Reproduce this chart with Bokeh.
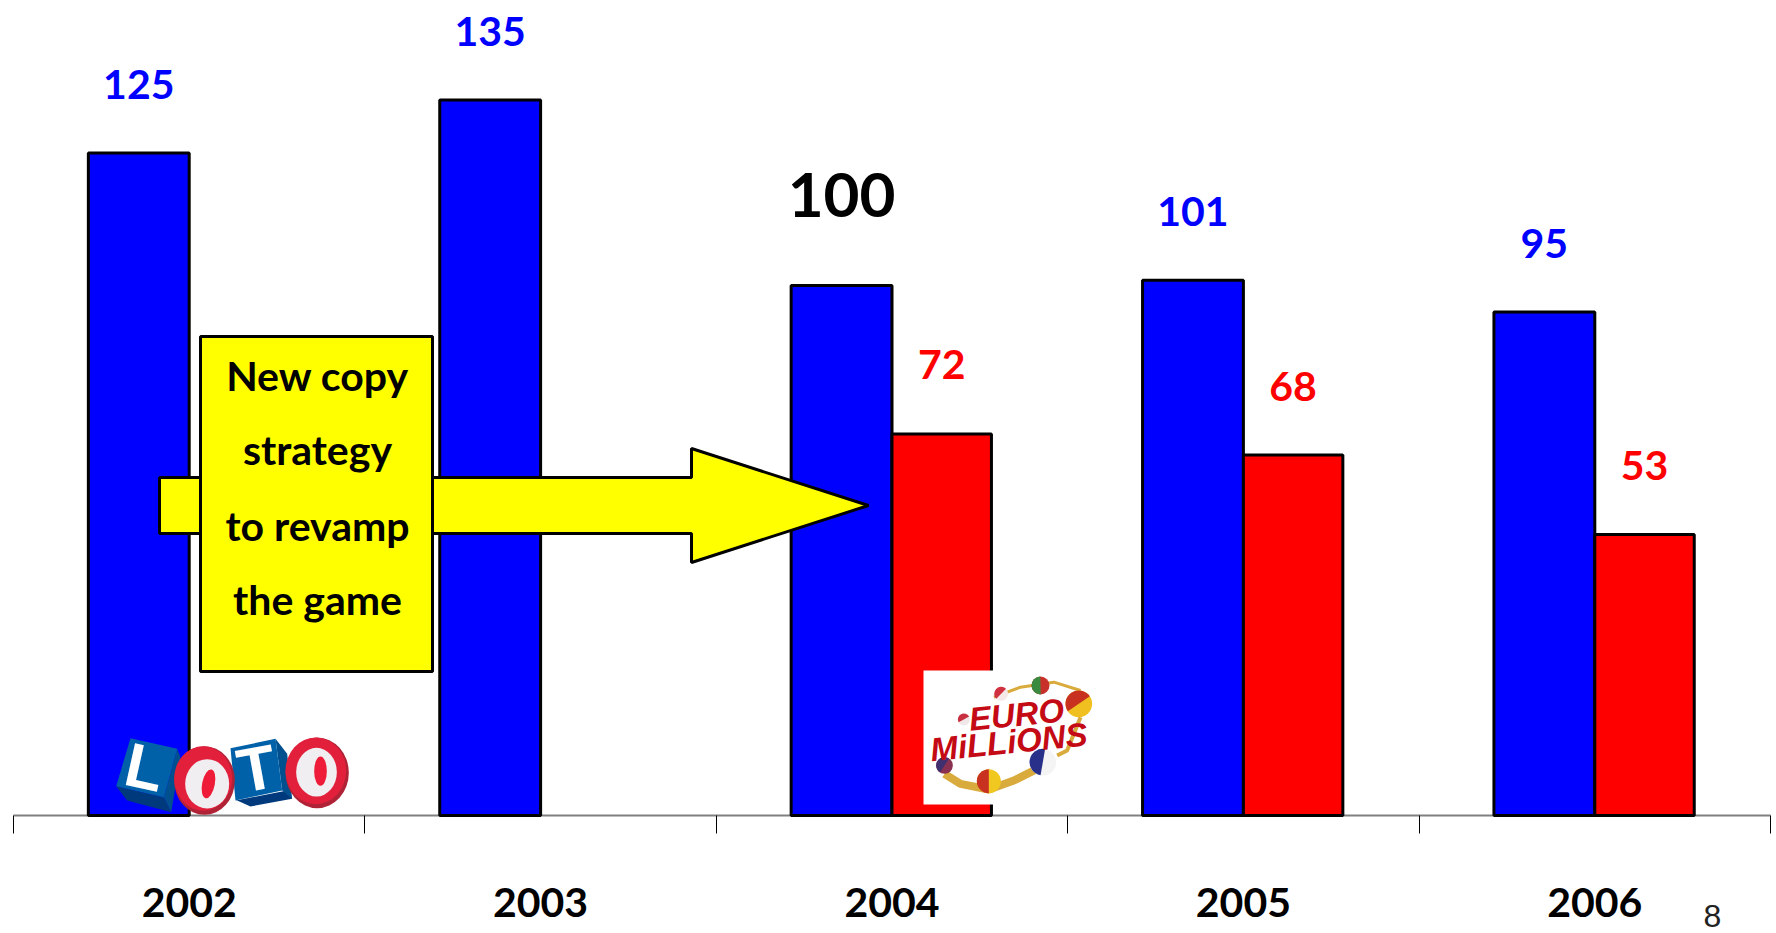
from bokeh.plotting import figure
from bokeh.models import Range1d, FixedTicker
from bokeh.core.properties import value
from bokeh.embed import file_html
from bokeh.resources import INLINE

years = ["2002", "2003", "2004", "2005", "2006"]
loto = [125, 135, 100, 101, 95]
euro = [None, None, 72, 68, 53]
callout = ["New copy", "strategy", "to revamp", "the game"]
page_number = "8"

FONT = "Lato"
FS = "41px"
W, H = 1776, 933
BLUE, RED, YEL = "#0000ff", "#ff0000", "#ffff00"
PX_X, PX_Y = 351.4, 5.3        # pixels per category / per unit
X0, Y0 = 13, 815               # page position of the origin

p = figure(width=W, height=H, output_backend="svg", toolbar_location=None,
           x_range=Range1d(-X0 / PX_X, (W - X0) / PX_X),
           y_range=Range1d((Y0 - H) / PX_Y, Y0 / PX_Y),
           y_axis_location=None, min_border=0, outline_line_color=None,
           background_fill_color="white", border_fill_color="white")
p.grid.visible = False
# a second coordinate system, in page pixels, for the callout and the logos
p.extra_x_ranges = {"page": Range1d(0, W)}
p.extra_y_ranges = {"page": Range1d(H, 0)}

ax = p.xaxis[0]
ax.fixed_location = 0
ax.level = "underlay"
ax.bounds = (0, len(years))
centres = [i + 0.5 for i in range(len(years))]
ax.ticker = FixedTicker(ticks=centres, minor_ticks=list(range(len(years) + 1)))
ax.major_label_overrides = {c: y for c, y in zip(centres, years)}
ax.major_tick_in = 0
ax.major_tick_out = 0
ax.minor_tick_in = 0
ax.minor_tick_out = 18
ax.minor_tick_line_color = "#000000"
ax.minor_tick_line_width = 1
ax.axis_line_color = "#808080"
ax.axis_line_width = 2
ax.major_label_standoff = 54
ax.major_label_text_font = FONT
ax.major_label_text_font_style = "bold"
ax.major_label_text_font_size = FS
ax.major_label_text_color = "#000000"

BW, RW = 0.287, 0.283
bx = [c - BW / 2 for c in centres]
rx = [c + RW / 2 for c in centres]
rcats = [x for x, v in zip(rx, euro) if v is not None]
rvals = [v for v in euro if v is not None]
p.vbar(x=bx, top=loto, bottom=0, width=BW, fill_color=BLUE, line_color="#000000", line_width=3)
p.vbar(x=rcats, top=rvals, bottom=0, width=RW, fill_color=RED, line_color="#000000", line_width=3)

# value labels
for i, (x, v) in enumerate(zip(bx, loto)):
    big = years[i] == "2004"
    p.text([x], [v], text=[str(v)], text_align="center", text_baseline="middle",
           y_offset=-91 if big else -69, text_color="#000000" if big else BLUE,
           text_font=value(FONT), text_font_style="bold",
           text_font_size="62px" if big else FS)
p.text(rcats, rvals, text=[str(v) for v in rvals], text_align="center", text_baseline="middle",
       y_offset=-69, text_color=RED, text_font=value(FONT), text_font_style="bold",
       text_font_size=FS)

pg = dict(x_range_name="page", y_range_name="page")

# arrow and callout
p.patch([159, 691, 691, 868, 691, 691, 159], [477, 477, 448, 505, 562, 533, 533],
        fill_color=YEL, line_color="#000000", line_width=3, **pg)
p.quad(left=[200], right=[432], top=[336], bottom=[671], fill_color=YEL,
       line_color="#000000", line_width=3, **pg)
p.text([317] * 4, [375, 449, 525, 599], text=callout, text_align="center", text_baseline="middle",
       text_color="#000000", text_font=value(FONT), text_font_style="bold",
       text_font_size="41px", **pg)

# LOTO logo
def lx(v): return [80 + a / 3 for a in v]
def ly(v): return [640 + a / 3 for a in v]
CUBE, CUBE_D = "#0061a8", "#003a7c"
for xs, ys, c in [
    ([107, 250, 272, 140], [437, 470, 515, 480], CUBE_D),
    ([290, 300, 272, 250], [325, 350, 515, 470], "#00508f"),
    ([150, 290, 250, 107], [293, 325, 470, 437], CUBE),
    ([465, 620, 635, 510, 470], [480, 450, 475, 498, 480], CUBE_D),
    ([585, 620, 635, 605], [295, 340, 475, 450], "#00508f"),
    ([450, 585, 605, 465], [323, 295, 450, 480], CUBE),
]:
    p.patch(lx(xs), ly(ys), fill_color=c, line_color=None, **pg)
p.text(lx([193]), ly([380]), text=["L"], angle=-0.22, text_align="center", text_baseline="middle",
       text_color="#ffffff", text_font=value("Liberation Sans"), text_font_style="bold",
       text_font_size="62px", **pg)
p.text(lx([528]), ly([384]), text=["T"], angle=0.18, text_align="center", text_baseline="middle",
       text_color="#ffffff", text_font=value("Liberation Sans"), text_font_style="bold",
       text_font_size="62px", **pg)
for cx, cy, w, h, ix, iy, iw, ih, hx, hy, hw, hh, a in [
    (372, 420, 182, 206, 380, 430, 132, 148, 384, 430, 38, 88, -0.2),
    (710, 397, 190, 212, 708, 395, 122, 146, 720, 392, 38, 88, 0.0),
]:
    p.ellipse(lx([cx]), ly([cy]), width=[w / 3], height=[h / 3], fill_color="#b02236", line_color=None, **pg)
    p.ellipse(lx([cx - 4]), ly([cy - 6]), width=[(w - 8) / 3], height=[(h - 12) / 3], fill_color="#e2203c", line_color=None, **pg)
    p.ellipse(lx([ix]), ly([iy]), width=[iw / 3], height=[ih / 3], fill_color="#f0eef0", line_color=None, **pg)
    p.ellipse(lx([hx]), ly([hy]), width=[hw / 3], height=[hh / 3], angle=a, fill_color="#ee1c38", line_color=None, **pg)

# EuroMillions logo
def ex(v): return [880 + a / 3 for a in v]
def ey(v): return [640 + a / 3 for a in v]
GOLD = "#d9aa3c"
p.quad(left=ex([129]), right=ex([640]), top=ey([90]), bottom=ey([492]), fill_color="#ffffff", line_color=None, **pg)
p.line(ex([192, 240, 325, 400, 470]), ey([400, 430, 447, 420, 385]), line_color=GOLD, line_width=8, **pg)
p.line(ex([340, 420, 520, 600]), ey([170, 140, 125, 150]), line_color=GOLD, line_width=3, **pg)
p.line(ex([530, 560, 600]), ey([345, 330, 230]), line_color=GOLD, line_width=4, **pg)
for cx, cy, r, c1, c2, rot in [
    (480, 135, 27, "#c8302a", "#3a8a40", 1.6),
    (595, 190, 40, "#f0c020", "#c83020", 0.6),
    (487, 365, 40, "#f4f4f4", "#28308a", 1.4),
    (325, 422, 36, "#f0c820", "#c83020", 1.57),
    (192, 375, 25, "#8a3050", "#403070", 1.0),
    (362, 160, 21, "#f4e8e8", "#d03040", 0.8),
    (250, 237, 18, "#f0e8e8", "#c83040", 0.5),
]:
    p.circle(ex([cx]), ey([cy]), radius=r / 3, fill_color=c1, line_color=None, **pg)
    p.wedge(ex([cx]), ey([cy]), radius=r / 3, start_angle=rot, end_angle=rot + 3.14,
            fill_color=c2, line_color=None, **pg)
p.text(ex([408]), ey([222]), text=["EURO"], angle=0.1, text_align="center", text_baseline="middle",
       text_color="#c40a14", text_font=value("Liberation Sans"), text_font_style="bold italic",
       text_font_size="33px", **pg)
p.text(ex([385]), ey([304]), text=["MiLLiONS"], angle=0.1, text_align="center", text_baseline="middle",
       text_color="#c40a14", text_font=value("Liberation Sans"), text_font_style="bold italic",
       text_font_size="33px", **pg)

# page number
p.text([1712], [926], text=[page_number], text_align="center", text_baseline="bottom",
       text_color="#222222", text_font=value("Liberation Sans"), text_font_size="32px", **pg)

open("out.html", "w").write(file_html(p, INLINE))
